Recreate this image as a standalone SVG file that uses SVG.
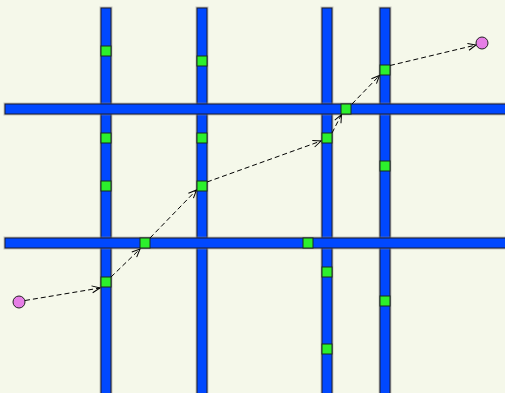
<svg xmlns="http://www.w3.org/2000/svg" width="505" height="393" viewBox="0 0 505 393">
<style>
.bar{fill:#0048ff;stroke:#1a1a2e;stroke-width:1}
.sh{fill:none;stroke:#888;stroke-opacity:0.45;stroke-width:3}
.port{fill:#2cf02c;stroke:#1a2a1a;stroke-width:1}
.term{fill:#e67ee6;stroke:#222;stroke-width:1}
.edge{fill:none;stroke:#000;stroke-width:1;stroke-dasharray:5,3;marker-end:url(#arr)}
</style>
<defs>
<marker id="arr" viewBox="0 0 10 10" refX="9" refY="5" markerWidth="10" markerHeight="10" markerUnits="userSpaceOnUse" orient="auto">
<path d="M1,1.5 L9,5 L1,8.5" fill="none" stroke="#000" stroke-width="1"/>
</marker>
</defs>
<rect width="505" height="393" fill="#f5f8ea"/>
<g id="v1"><rect class="sh" x="101" y="8" width="10" height="390"/><rect class="bar" x="101" y="8" width="10" height="390"/></g>
<g id="v2"><rect class="sh" x="197" y="8" width="10" height="390"/><rect class="bar" x="197" y="8" width="10" height="390"/></g>
<g id="v3"><rect class="sh" x="322" y="8" width="10" height="390"/><rect class="bar" x="322" y="8" width="10" height="390"/></g>
<g id="v4"><rect class="sh" x="380" y="8" width="10" height="390"/><rect class="bar" x="380" y="8" width="10" height="390"/></g>
<g id="h1"><rect class="sh" x="5" y="104" width="505" height="10"/><rect class="bar" x="5" y="104" width="505" height="10"/></g>
<g id="h2"><rect class="sh" x="5" y="238" width="505" height="10"/><rect class="bar" x="5" y="238" width="505" height="10"/></g>
<g id="connectors">
<line class="edge" x1="25" y1="300.5" x2="100" y2="288"/>
<line class="edge" x1="111" y1="277" x2="140" y2="249"/>
<line class="edge" x1="150" y1="238" x2="196.5" y2="190"/>
<line class="edge" x1="207" y1="182" x2="321" y2="141"/>
<line class="edge" x1="332" y1="133" x2="341.5" y2="114.5"/>
<line class="edge" x1="352" y1="104" x2="379.5" y2="75.5"/>
<line class="edge" x1="390" y1="65.5" x2="476" y2="45"/>
</g>
<g id="p1"><rect class="port" x="101" y="46" width="10" height="10"/></g>
<g id="p2"><rect class="port" x="101" y="133" width="10" height="10"/></g>
<g id="p3"><rect class="port" x="101" y="181" width="10" height="10"/></g>
<g id="p4"><rect class="port" x="101" y="277" width="10" height="10"/></g>
<g id="p5"><rect class="port" x="197" y="56" width="10" height="10"/></g>
<g id="p6"><rect class="port" x="197" y="133" width="10" height="10"/></g>
<g id="p7"><rect class="port" x="197" y="181" width="10" height="10"/></g>
<g id="p8"><rect class="port" x="322" y="133" width="10" height="10"/></g>
<g id="p9"><rect class="port" x="322" y="267" width="10" height="10"/></g>
<g id="p10"><rect class="port" x="322" y="344" width="10" height="10"/></g>
<g id="p11"><rect class="port" x="380" y="65" width="10" height="10"/></g>
<g id="p12"><rect class="port" x="380" y="161" width="10" height="10"/></g>
<g id="p13"><rect class="port" x="380" y="296" width="10" height="10"/></g>
<g id="p14"><rect class="port" x="341" y="104" width="10" height="10"/></g>
<g id="p15"><rect class="port" x="140" y="238" width="10" height="10"/></g>
<g id="p16"><rect class="port" x="303" y="238" width="10" height="10"/></g>
<g id="start"><circle class="term" cx="19" cy="302" r="6"/></g>
<g id="end"><circle class="term" cx="482" cy="43" r="6"/></g>
</svg>
